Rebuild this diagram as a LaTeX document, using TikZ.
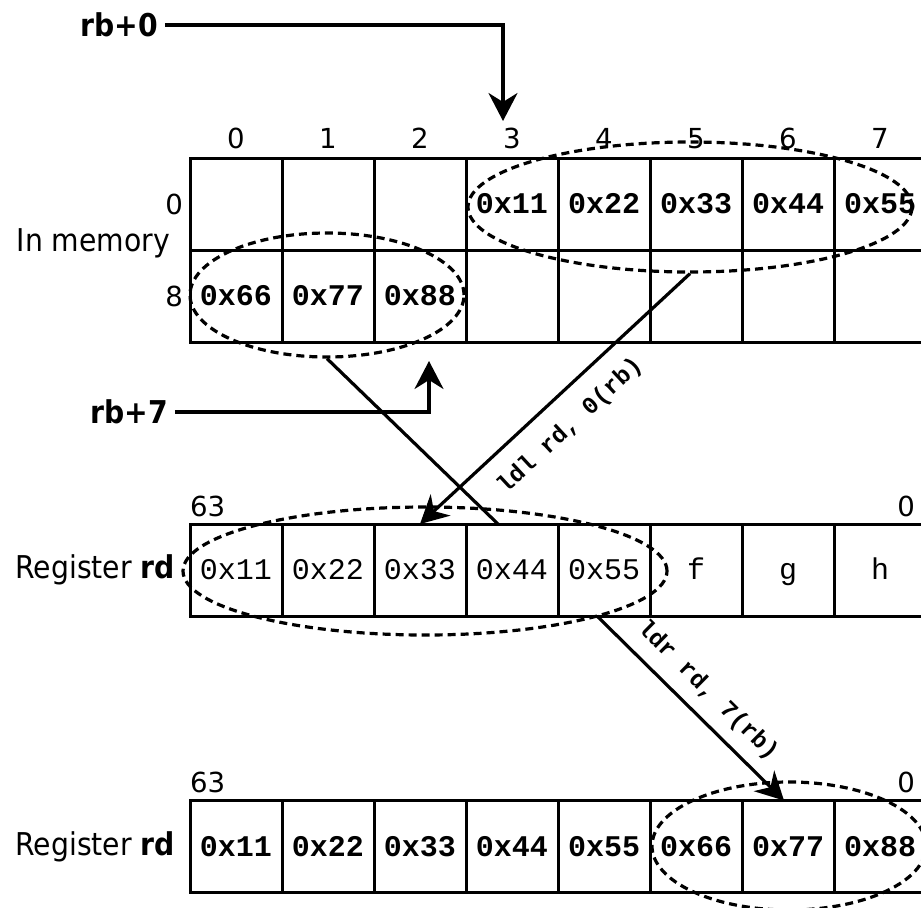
\documentclass[tikz,border=0pt]{standalone}
\usepackage{fontspec}
\setmainfont{DejaVu Sans Condensed}
\setmonofont{Liberation Mono}
\newfontfamily\digfont{DejaVu Sans}
\usetikzlibrary{positioning,arrows.meta,shapes.geometric}

\begin{document}
\begin{tikzpicture}[
  x=0.5pt, y=-0.5pt,
  node distance=0pt,
  lbl/.style   = {font=\fontsize{15.7}{19}\selectfont},
  num/.style   = {font=\fontsize{13.8}{16}\selectfont\digfont},
  cell/.style  = {draw, line width=1.5pt, minimum width=46pt,
                  minimum height=46pt, inner sep=0pt, outer sep=0pt,
                  text height=9.8pt, text depth=0pt,
                  font=\fontsize{15}{18}\selectfont\ttfamily\bfseries},
  rcell/.style = {cell, font=\fontsize{15}{18}\selectfont\ttfamily},
  ring/.style  = {draw, ellipse, line width=1.6pt,
                  dash pattern=on 4pt off 2.5pt, inner sep=0pt},
  wire/.style  = {line width=1.6pt},
  ptr/.style   = {-{Stealth[length=14pt, width=14.5pt, inset=4.5pt]}},
  op/.style    = {font=\fontsize{12}{14}\selectfont\ttfamily\bfseries, sloped}
]
\useasboundingbox (0,0) rectangle (921,907);

% ---------- memory, row 0 --------------------------------------------------
\node[cell] (m0) at (236,204) {};
\node[cell, right=of m0] (m1) {};
\node[cell, right=of m1] (m2) {};
\node[cell, right=of m2] (m3) {0x11};
\node[cell, right=of m3] (m4) {0x22};
\node[cell, right=of m4] (m5) {0x33};
\node[cell, right=of m5] (m6) {0x44};
\node[cell, right=of m6] (m7) {0x55};

% ---------- memory, row 8 --------------------------------------------------
\node[cell, below=of m0] (m8) {0x66};
\node[cell, right=of m8] (m9) {0x77};
\node[cell, right=of m9] (m10) {0x88};
\node[cell, right=of m10] (m11) {};
\node[cell, right=of m11] (m12) {};
\node[cell, right=of m12] (m13) {};
\node[cell, right=of m13] (m14) {};
\node[cell, right=of m14] (m15) {};

\node[num, above=1pt of m0] (c0) {0};
\node[num, above=1pt of m1] (c1) {1};
\node[num, above=1pt of m2] (c2) {2};
\node[num, above=1pt of m3] (c3) {3};
\node[num, above=1pt of m4] (c4) {4};
\node[num, above=1pt of m5] (c5) {5};
\node[num, above=1pt of m6] (c6) {6};
\node[num, above=1pt of m7] (c7) {7};

\node[num, left=0pt of m0] (row0) {0};
\node[num, left=0pt of m8] (row8) {8};
\node[lbl, left=6.5pt of m0.south west, yshift=3.5pt] (mem) {In memory};

% ---------- register rd, before ------------------------------------------
\node[rcell] (r0) at (236,570) {0x11};
\node[rcell, right=of r0] (r1) {0x22};
\node[rcell, right=of r1] (r2) {0x33};
\node[rcell, right=of r2] (r3) {0x44};
\node[rcell, right=of r3] (r4) {0x55};
\node[rcell, right=of r4] (r5) {f};
\node[rcell, right=of r5] (r6) {g};
\node[rcell, right=of r6] (r7) {h};

\node[lbl, left=4pt of r0] (regA) {Register \textbf{rd}};
\node[num, above=0pt of r0.north west, anchor=south west, xshift=-3.5pt] (hiA) {63};
\node[num, above=0pt of r7.north east, anchor=south east, xshift=-2pt] (loA) {0};

% ---------- register rd, after -------------------------------------------
\node[cell] (b0) at (236,846.5) {0x11};
\node[cell, right=of b0] (b1) {0x22};
\node[cell, right=of b1] (b2) {0x33};
\node[cell, right=of b2] (b3) {0x44};
\node[cell, right=of b3] (b4) {0x55};
\node[cell, right=of b4] (b5) {0x66};
\node[cell, right=of b5] (b6) {0x77};
\node[cell, right=of b6] (b7) {0x88};

\node[lbl, left=4pt of b0] (regB) {Register \textbf{rd}};
\node[num, above=0.5pt of b0.north west, anchor=south west, xshift=-3.5pt] (hiB) {63};
\node[num, above=0.5pt of b7.north east, anchor=south east, xshift=-2pt] (loB) {0};

% ---------- the byte groups ------------------------------------------------
\node[ring, minimum width=222pt, minimum height=65pt] (e1) at (690,207) {};
\node[ring, minimum width=137pt, minimum height=62pt] (e2) at (327,295) {};
\node[ring, minimum width=242pt, minimum height=64pt] (e3) at (425,571) {};
\node[ring, minimum width=137pt, minimum height=64pt] (e4) at (789,846) {};

% ---------- base pointers --------------------------------------------------
\node[lbl] (rb0) at (119,25) {\textbf{rb+0}};
\node[lbl] (rb7) at (129,412) {\textbf{rb+7}};

\draw[wire, ptr] (rb0.east) -| ([xshift=-4.5pt]c3.north);
\draw[wire, ptr] (rb7.east) -| ([xshift=4.5pt, yshift=-9.5pt]m10.south);

% ---------- loads ----------------------------------------------------------
\draw[wire] (e2.south) -- ([xshift=-7pt]r3.north);
\draw[wire, ptr] (e1.south) -- (r2.north)
  node[op, pos=0.52, below=5.5pt] (ldl) {ldl rd, 0(rb)};
\draw[wire, ptr] ([xshift=-3.5pt]r4.south) -- ([xshift=-2pt]b6.north)
  node[op, pos=0.5, above=2.5pt] (ldr) {ldr rd, 7(rb)};

\end{tikzpicture}
\end{document}
